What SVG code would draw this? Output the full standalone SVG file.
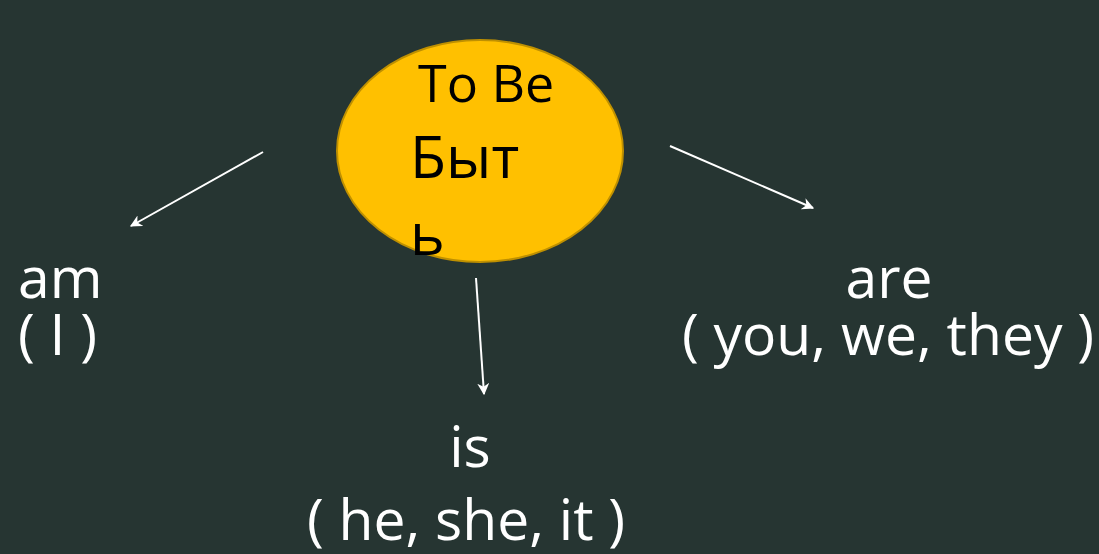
<svg xmlns="http://www.w3.org/2000/svg" width="1099" height="554" viewBox="0 0 1099 554">
<style>
.lbl{font-family:"Open Sans","DejaVu Sans",sans-serif;font-size:57px;fill:#FFFFFF}
.ctr{font-family:"Open Sans","DejaVu Sans",sans-serif;font-size:52px;fill:#000000}
.ctr2{font-family:"Open Sans","DejaVu Sans",sans-serif;font-size:59px;fill:#000000}
.conn{stroke:#FFFFFF;stroke-width:2;fill:none;marker-end:url(#ah)}
</style>
<defs>
<marker id="ah" viewBox="0 0 10 10" refX="9" refY="5" markerWidth="6" markerHeight="6" markerUnits="strokeWidth" orient="auto">
<path d="M0,0 L10,5 L0,10 L3,5 Z" fill="#FFFFFF"/>
</marker>
</defs>
<rect width="1099" height="554" fill="#263532"/>
<g id="center">
<ellipse cx="480" cy="151" rx="143" ry="111" fill="#FFC000" stroke="#BF9000" stroke-width="2"/>
<text class="ctr" x="418" y="102">To Be</text>
<text class="ctr2" x="410" y="178">Быт</text>
<text class="ctr2" x="410" y="255">ь</text>
</g>
<g id="am">
<text class="lbl" x="18" y="298">am</text>
<text class="lbl" x="18" y="355">( I )</text>
</g>
<g id="are">
<text class="lbl" x="889" y="298" text-anchor="middle">are</text>
<text class="lbl" x="888" y="355" text-anchor="middle">( you, we, they )</text>
</g>
<g id="is">
<text class="lbl" x="470" y="467" text-anchor="middle">is</text>
<text class="lbl" x="466" y="540" text-anchor="middle">( he, she, it )</text>
</g>
<g id="connectors">
<line class="conn" x1="263" y1="152" x2="131" y2="226"/>
<line class="conn" x1="670" y1="146" x2="813" y2="208"/>
<line class="conn" x1="476" y1="278" x2="484" y2="394"/>
</g>
</svg>
